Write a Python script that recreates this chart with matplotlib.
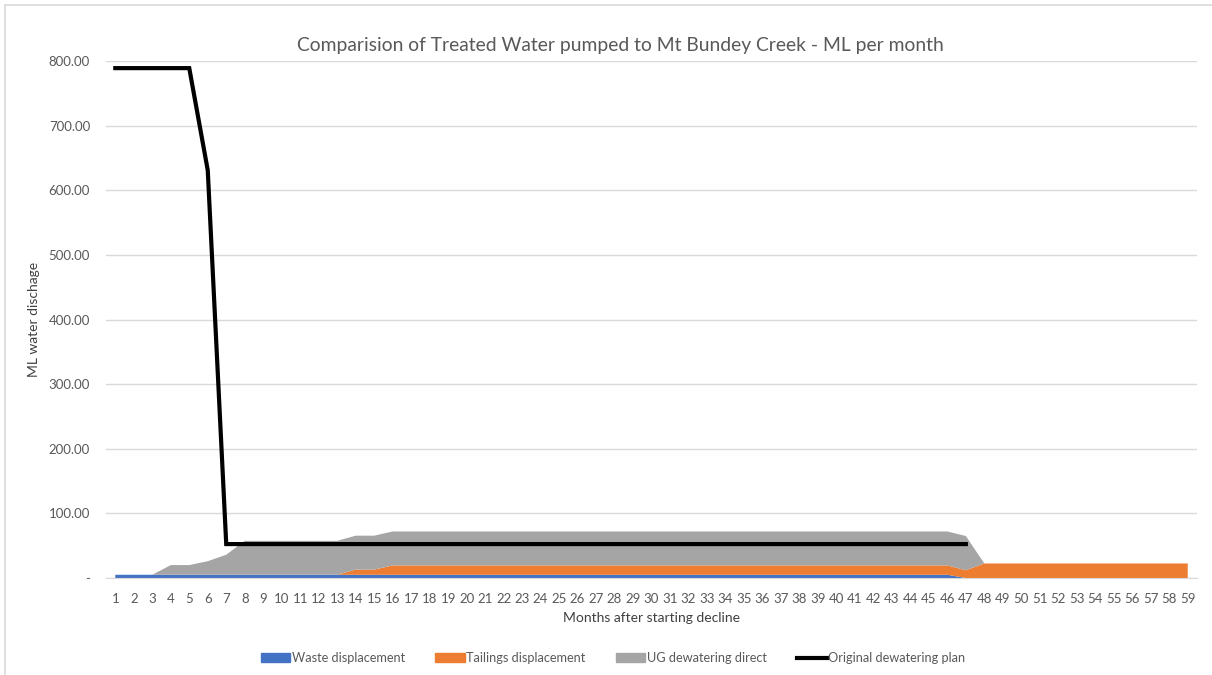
import matplotlib
matplotlib.use("Agg")
import matplotlib.pyplot as plt
from matplotlib.lines import Line2D
from matplotlib.patches import Patch
import numpy as np

months = list(range(1, 60))

waste = [5.0] * 46 + [0.0] * 13
tailings = [0.0] * 13 + [8.0, 8.0] + [14.5] * 31 + [12.0] + [22.5] * 12
ug_direct = ([0.0, 0.0, 0.0, 15.0, 15.0, 21.0, 31.0] + [52.5] * 6 + [52.5, 52.5]
             + [52.5] * 31 + [53.0] + [0.0] * 12)
original_plan = [789.0] * 5 + [631.0] + [52.5] * 41

plt.rcParams['font.family'] = ['Lato', 'DejaVu Sans']

fig = plt.figure(figsize=(12.12, 6.75), dpi=100)
ax = fig.add_axes([0.0875, 0.1437, 0.9001, 0.7659])

c_blue = '#4472C4'
c_orange = '#ED7D31'
c_gray = '#A5A5A5'

ax.stackplot(months, waste, tailings, ug_direct,
             colors=[c_blue, c_orange, c_gray], linewidth=0, zorder=2)
ax.plot(months[:len(original_plan)], original_plan, color='black', lw=3, zorder=3,
        solid_joinstyle='miter')

ax.set_xlim(0.5, 59.5)
ax.set_ylim(0, 800)
yt = np.arange(0, 801, 100)
ax.set_yticks(yt)
ax.set_yticklabels(['-'] + [f'{v:.2f}' for v in yt[1:]])
ax.set_xticks(months)
ax.set_xticklabels([str(m) for m in months])
ax.grid(axis='y', color='#D9D9D9', lw=1, zorder=0)
ax.set_axisbelow(True)
for s in ['top', 'right', 'left']:
    ax.spines[s].set_visible(False)
ax.spines['bottom'].set_color('#D9D9D9')
ax.tick_params(axis='both', length=0, colors='#595959', labelsize=9.5)
ax.tick_params(axis='y', pad=11.5)
ax.tick_params(axis='x', pad=11)

fig.text(620 / 1212, 1 - 46 / 675,
         'Comparision of Treated Water pumped to Mt Bundey Creek - ML per month',
         fontsize=13.9, color='#595959', ha='center', va='center')
ax.set_ylabel('ML water dischage', fontsize=10, color='#404040', labelpad=6)
ax.set_xlabel('Months after starting decline', fontsize=10, color='#404040', labelpad=5)

handles = [Patch(color=c_blue), Patch(color=c_orange), Patch(color=c_gray),
           Line2D([], [], color='black', lw=3)]
labels = ['Waste displacement', 'Tailings displacement', 'UG dewatering direct',
          'Original dewatering plan']
fig.legend(handles, labels, loc='center', bbox_to_anchor=(613 / 1212, 1 - 658 / 675), ncol=4,
           frameon=False, fontsize=9.2, handlelength=2.3, handleheight=0.6,
           columnspacing=2.4, handletextpad=0.1, labelcolor='#595959')

fig.add_artist(Line2D([5/1212, 1], [1 - 5/675, 1 - 5/675], transform=fig.transFigure,
                      color='#D9D9D9', lw=1.2))
fig.add_artist(Line2D([5/1212, 5/1212], [0, 1 - 5/675], transform=fig.transFigure,
                      color='#D9D9D9', lw=1.2))

fig.savefig('out.png', dpi=100)
